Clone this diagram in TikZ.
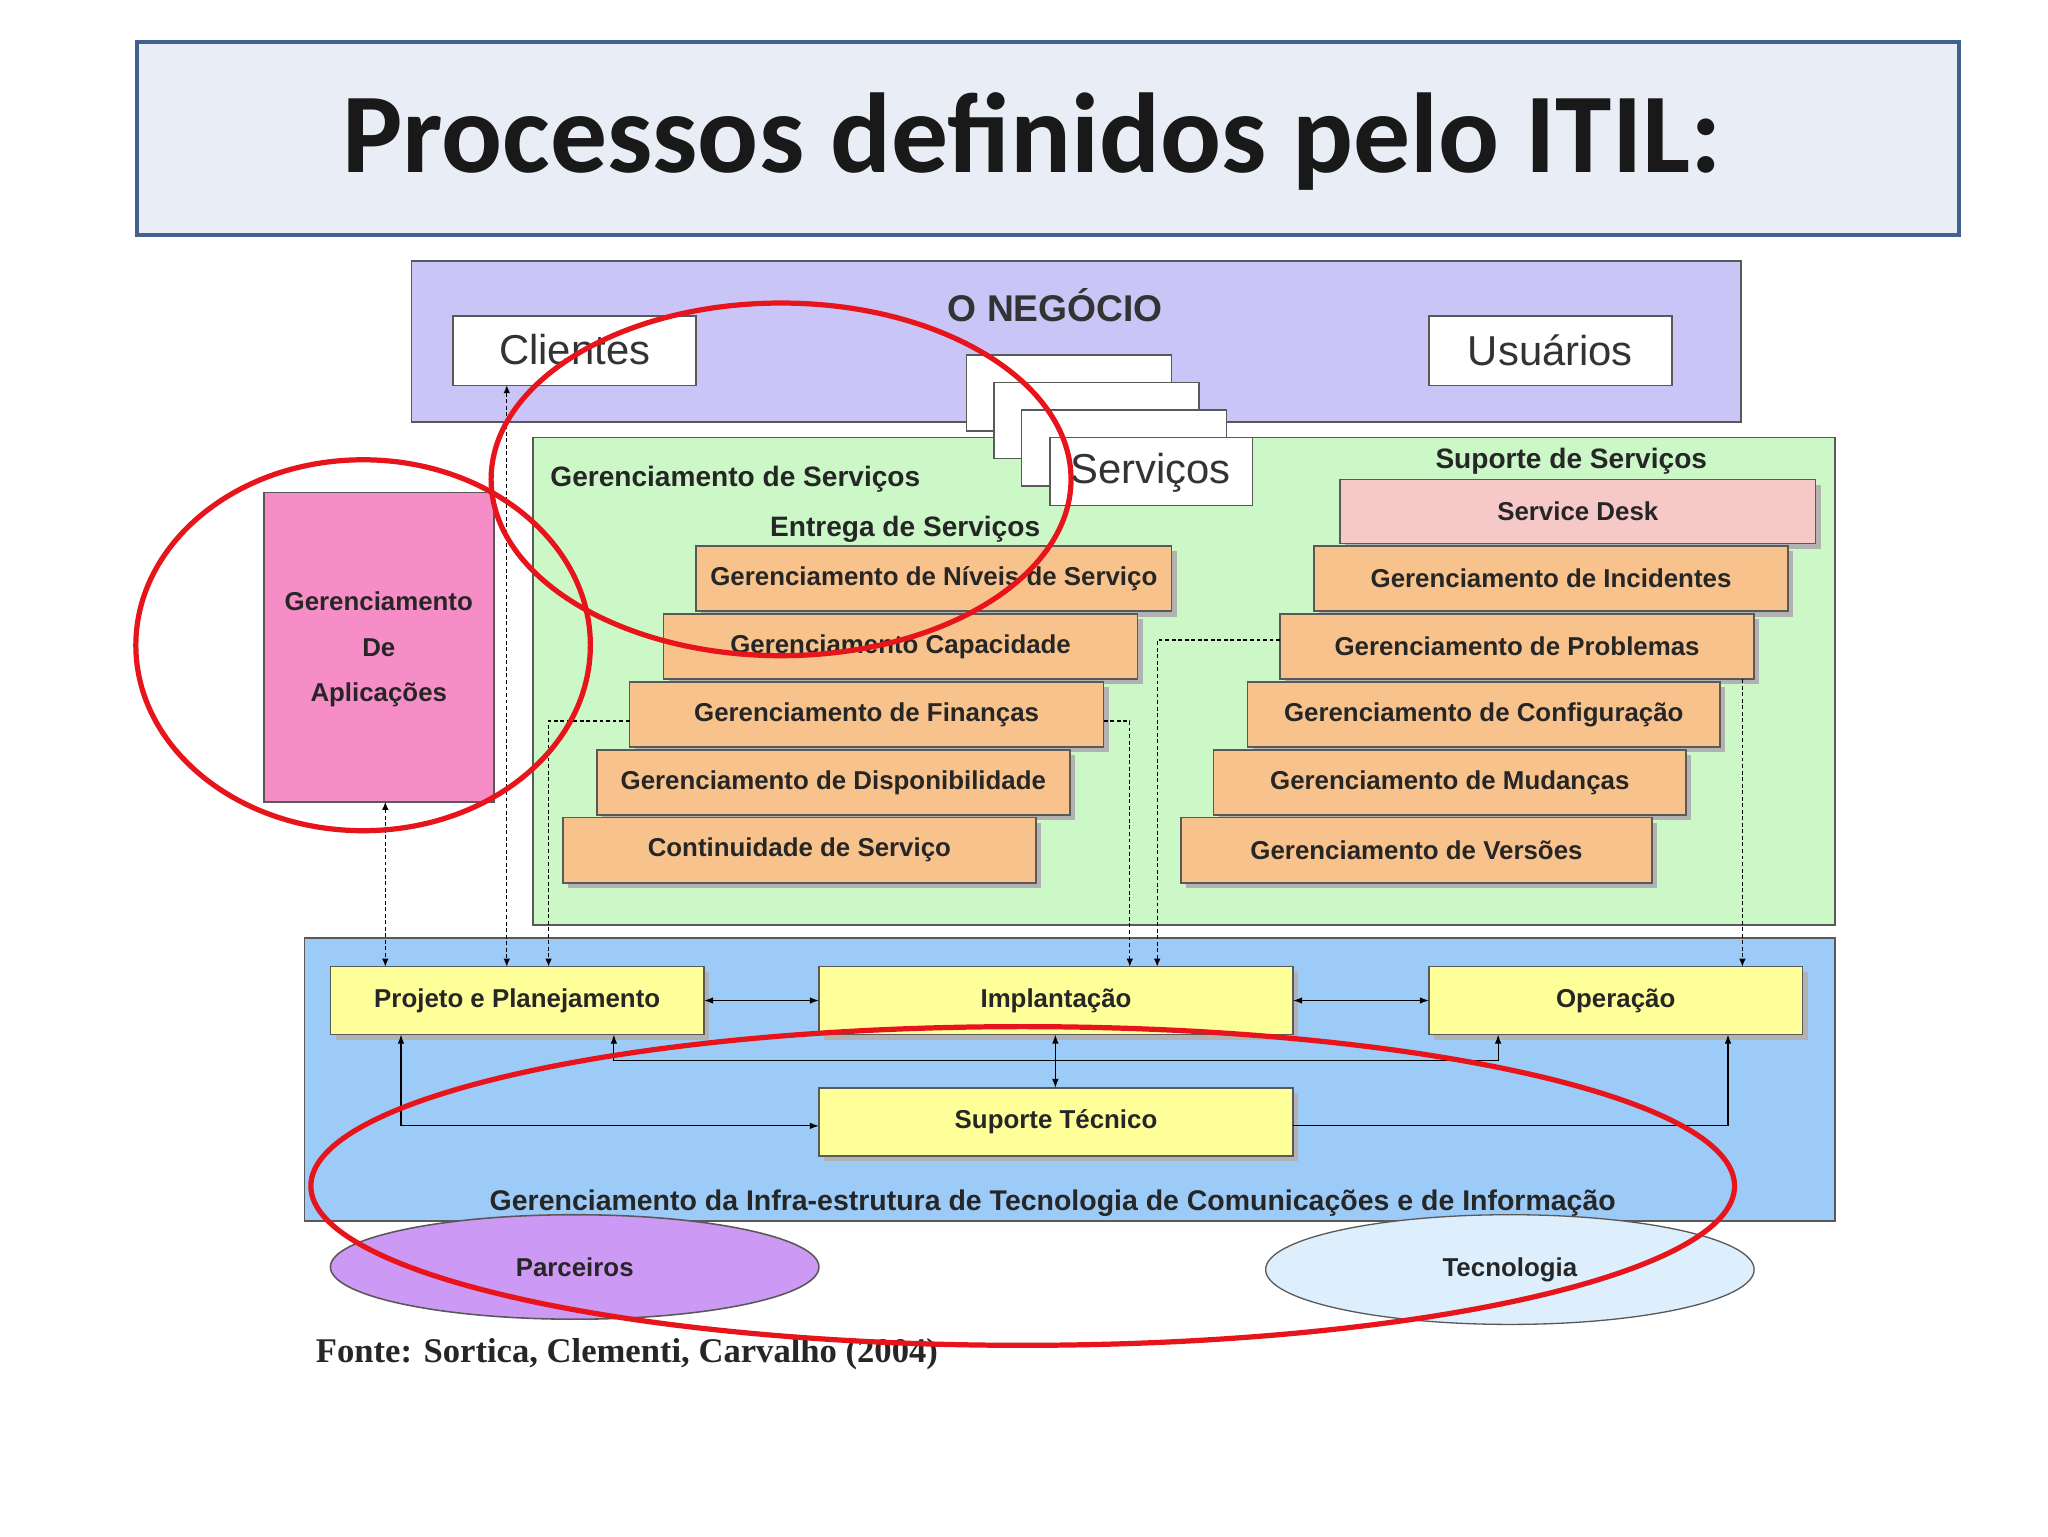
\documentclass[tikz,border=0pt]{standalone}
\usepackage{fontspec}
\setmainfont{Liberation Sans}
\newfontfamily\titlefont{Carlito}
\newfontfamily\seriffont{Liberation Serif}
\usetikzlibrary{arrows.meta}
\definecolor{titlefill}{HTML}{E9EDF5}
\definecolor{titleline}{HTML}{41628F}
\definecolor{lav}{HTML}{C9C6F7}
\definecolor{grn}{HTML}{CCF8C8}
\definecolor{org}{HTML}{F8C28C}
\definecolor{pnk}{HTML}{F6C8C8}
\definecolor{app}{HTML}{F78DC6}
\definecolor{blu}{HTML}{9CCBF7}
\definecolor{yel}{HTML}{FFFF99}
\definecolor{purp}{HTML}{CC99F5}
\definecolor{tec}{HTML}{DDEEFC}
\definecolor{redl}{HTML}{E8141B}
\tikzset{
  box/.style={draw=gray!70!black, line width=1.2pt},
  lbl/.style={font=\fontsize{19.8}{22}\selectfont\bfseries, text=black!85},
  seclbl/.style={font=\fontsize{21.5}{23}\selectfont\bfseries, text=black!85},
  sh/.style={fill=gray!60},
  dsh/.style={densely dashed, line width=0.8pt, -{Latex[length=6pt,width=5pt]}},
  dsh2/.style={densely dashed, line width=0.8pt, {Latex[length=6pt,width=5pt]}-{Latex[length=6pt,width=5pt]}},
  sol/.style={line width=0.9pt, {Latex[length=7pt,width=5pt]}-{Latex[length=7pt,width=5pt]}},
  sol1/.style={line width=0.9pt, -{Latex[length=7pt,width=5pt]}},
  redring/.style={draw=redl, line width=4pt}
}
\newcommand{\obox}[6]{% x1 y1 x2 y2 fill text
  \fill[sh] (#1+4,#2+4) rectangle (#3+4,#4+4);
  \draw[box,fill=#5] (#1,#2) rectangle (#3,#4);
  \node[lbl] at ({(#1+#3)/2},{(#2+#4)/2}) {#6};}
\begin{document}
\begin{tikzpicture}[x=1pt,y=-1pt]
\useasboundingbox[fill=white] (0,0) rectangle (1568,1176);
% title
\draw[fill=titlefill, draw=titleline, line width=3pt] (105,32) rectangle (1500,180);
\node[font=\titlefont\fontsize{87}{90}\selectfont\bfseries, text=black!90] (title) at (790,108) {Processos definidos pelo ITIL:};
% business
\draw[box,fill=lav] (315,200) rectangle (1333,323);
\node[font=\fontsize{28.5}{30}\selectfont\bfseries, text=black!80] (neg) at (808,234) {O NEGÓCIO};
\draw[box,fill=white] (347,242) rectangle (533,295);
\node[font=\fontsize{32}{34}\selectfont, text=black!80] (cli) at (440,268) {Clientes};
\draw[box,fill=white] (1094,242) rectangle (1280,295);
\node[font=\fontsize{32}{34}\selectfont, text=black!80] (usu) at (1187,268) {Usuários};
% green
\draw[box,fill=grn] (408,335) rectangle (1405,708);
\foreach \dx/\dy in {0/0,21/21,42/42}{
  \draw[box,fill=white] (740+\dx,272+\dy) rectangle (897+\dx,330+\dy);}
\draw[box,fill=white] (804,335) rectangle (959,387);
\node[font=\fontsize{32}{34}\selectfont, text=black!80] (serv) at (881,362) {Serviços};
\node[seclbl] (gs) at (563,367) {Gerenciamento de Serviços};
\node[seclbl] (es) at (693,405) {Entrega de Serviços};
\node[seclbl] (ss) at (1203,353) {Suporte de Serviços};
% left stack
\obox{533}{418}{897}{468}{org}{Gerenciamento de Níveis de Serviço}
\obox{508}{470}{871}{520}{org}{Gerenciamento Capacidade}
\obox{482}{522}{845}{572}{org}{Gerenciamento de Finanças}
\obox{457}{574}{819}{624}{org}{Gerenciamento de Disponibilidade}
\obox{431}{626}{793}{676}{org}{Continuidade de Serviço}
% right stack
\obox{1026}{367}{1390}{416}{pnk}{Service Desk}
\obox{1006}{418}{1369}{468}{org}{Gerenciamento de Incidentes}
\obox{980}{470}{1343}{520}{org}{Gerenciamento de Problemas}
\obox{955}{522}{1317}{572}{org}{Gerenciamento de Configuração}
\obox{929}{574}{1291}{624}{org}{Gerenciamento de Mudanças}
\obox{904}{626}{1265}{676}{org}{Gerenciamento de Versões}
% applications
\draw[box,fill=app] (202,377) rectangle (378,614);
\node[lbl] (a1) at (290,460) {Gerenciamento};
\node[lbl] (a2) at (290,496) {De};
\node[lbl] (a3) at (290,532) {Aplicações};
% infrastructure
\draw[box,fill=blu] (233,718) rectangle (1405,935);
\obox{253}{740}{539}{792}{yel}{Projeto e Planejamento}
\obox{627}{740}{990}{792}{yel}{Implantação}
\obox{1094}{740}{1380}{792}{yel}{Operação}
\obox{627}{833}{990}{885}{yel}{Suporte Técnico}
\node[seclbl,font=\fontsize{21.8}{23}\selectfont\bfseries] (inf) at (806,921) {Gerenciamento da Infra-estrutura de Tecnologia de Comunicações e de Informação};
% ellipses
\draw[box,fill=purp] (440,970) ellipse [x radius=187, y radius=40];
\node[lbl] (par) at (440,970) {Parceiros};
\draw[draw=gray!70!black, line width=1pt, fill=tec] (1156,972) ellipse [x radius=187, y radius=42];
\node[lbl] (tecn) at (1156,972) {Tecnologia};
\node[font=\seriffont\fontsize{26.5}{28}\selectfont\bfseries, text=black!85] (fonte) at (480,1037) {Fonte: Sortica, Clementi, Carvalho (2004)};
% connectors
\draw[dsh2] (295,614) -- (295,740);
\draw[dsh2] (388,295) -- (388,740);
\draw[dsh] (482,552) -- (420,552) -- (420,740);
\draw[dsh] (845,552) -- (865,552) -- (865,740);
\draw[dsh] (980,490) -- (886,490) -- (886,740);
\draw[dsh] (1334,520) -- (1334,740);
\draw[sol] (539,766) -- (627,766);
\draw[sol] (990,766) -- (1094,766);
\draw[sol] (808,792) -- (808,833);
\draw[line width=0.9pt] (470,812) -- (1147,812);
\draw[sol1] (470,812) -- (470,792);
\draw[sol1] (1147,812) -- (1147,792);
\draw[sol] (307,792) -- (307,862) -- (627,862);
\draw[sol1] (990,862) -- (1323,862) -- (1323,792);
% red rings
\draw[redring] (598,367) ellipse [x radius=222, y radius=135];
\draw[redring] (278,494) ellipse [x radius=174, y radius=142];
\draw[redring] (783,908) ellipse [x radius=545, y radius=122];
\end{tikzpicture}
\end{document}
